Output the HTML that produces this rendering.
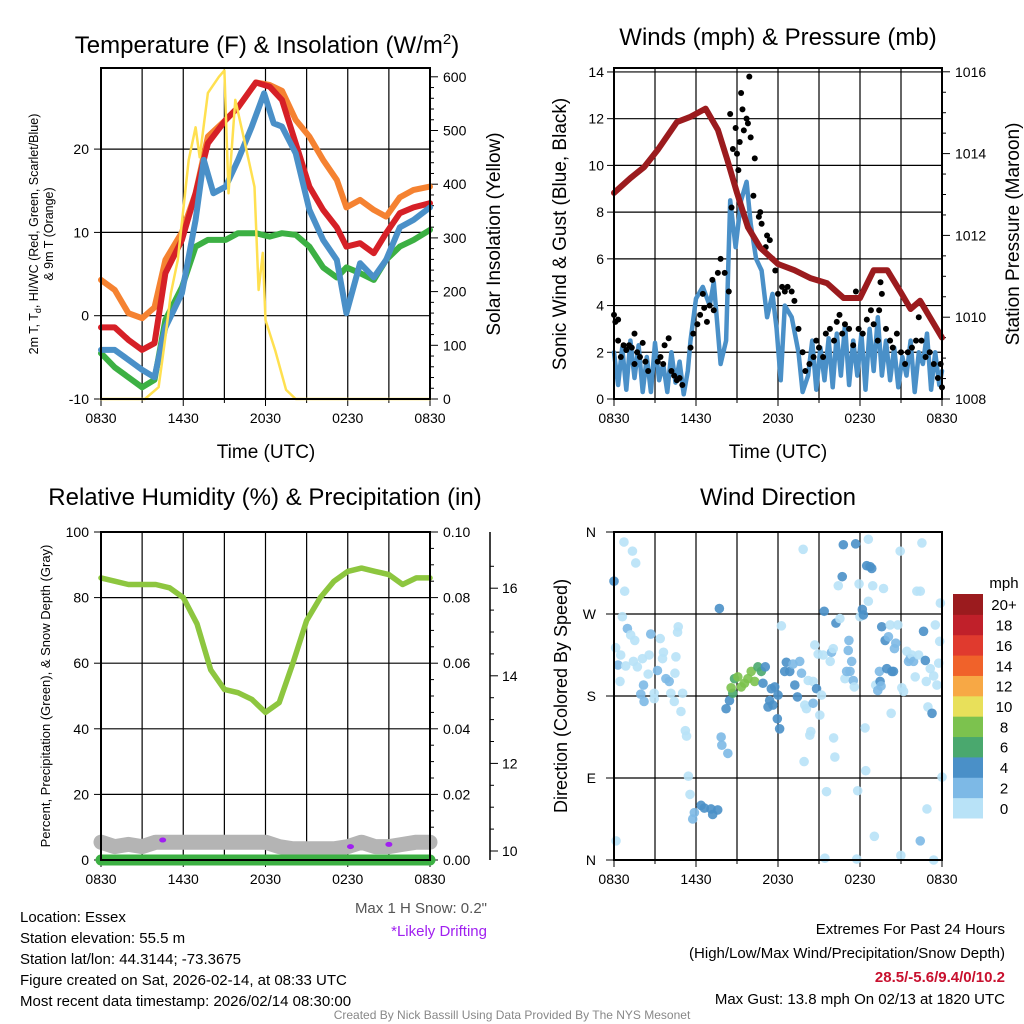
<!DOCTYPE html>
<html><head><meta charset="utf-8">
<style>
html,body{margin:0;padding:0;background:#fff;}
svg{display:block;font-family:"Liberation Sans",Arial,sans-serif;}
</style></head>
<body>
<svg id="s" width="1024" height="1024" viewBox="0 0 1024 1024" xmlns="http://www.w3.org/2000/svg">
<rect width="1024" height="1024" fill="#fff"/>
<g id="g1"></g>
<g id="g2"></g>
<g id="g3"></g>
<g id="g4"></g>
<g font-size="24" text-anchor="middle" fill="#000">
<text x="267" y="53">Temperature (F) &amp; Insolation (W/m<tspan font-size="15" dy="-9">2</tspan><tspan dy="9">)</tspan></text>
<text x="778" y="45">Winds (mph) &amp; Pressure (mb)</text>
<text x="265" y="505">Relative Humidity (%) &amp; Precipitation (in)</text>
<text x="778" y="505">Wind Direction</text>
</g>
<g font-size="19" text-anchor="middle">
<text x="266" y="458">Time (UTC)</text>
<text x="778" y="458">Time (UTC)</text>
<text transform="translate(500,234) rotate(-90)">Solar Insolation (Yellow)</text>
<text transform="translate(566,234) rotate(-90)">Sonic Wind &amp; Gust (Blue, Black)</text>
<text transform="translate(1019,234) rotate(-90)">Station Pressure (Maroon)</text>
<text transform="translate(567,696) rotate(-90)" font-size="18">Direction (Colored By Speed)</text>
</g>
<g font-size="12.5" text-anchor="middle">
<text transform="translate(38,234) rotate(-90)">2m T, T<tspan font-size="9" dy="3">d</tspan><tspan dy="-3">, HI/WC (Red, Green, Scarlet/Blue)</tspan></text>
<text transform="translate(53,234) rotate(-90)">&amp; 9m T (Orange)</text>
<text transform="translate(50,696) rotate(-90)" font-size="13">Percent, Precipitation (Green), &amp; Snow Depth (Gray)</text>
</g>
<g font-size="15" fill="#000">
<text x="20" y="922">Location: Essex</text>
<text x="20" y="943">Station elevation: 55.5 m</text>
<text x="20" y="964">Station lat/lon: 44.3144; -73.3675</text>
<text x="20" y="985">Figure created on Sat, 2026-02-14, at 08:33 UTC</text>
<text x="20" y="1006">Most recent data timestamp: 2026/02/14 08:30:00</text>
</g>
<g font-size="15" text-anchor="end">
<text x="487" y="913" fill="#555">Max 1 H Snow: 0.2"</text>
<text x="487" y="936" fill="#a020f0">*Likely Drifting</text>
<text x="1005" y="934" fill="#000">Extremes For Past 24 Hours</text>
<text x="1005" y="958" fill="#000">(High/Low/Max Wind/Precipitation/Snow Depth)</text>
<text x="1005" y="982" fill="#c8102e" font-weight="bold">28.5/-5.6/9.4/0/10.2</text>
<text x="1005" y="1004" fill="#000">Max Gust: 13.8 mph On 02/13 at 1820 UTC</text>
</g>
<text x="512" y="1019" font-size="12" fill="#888" text-anchor="middle">Created By Nick Bassill Using Data Provided By The NYS Mesonet</text>
</svg>
<script>
// ---- data (hours since 0830 UTC) ----
const hrs = [0,1,2,3,4,5,6,7,8,9,10,11,12,13,14,15,16,17,18,19,20,21,22,23,24];
const xTickLabels = ["0830","1430","2030","0230","0830"];
const tempHrs = [0,1,2,3,3.9,4.7,5.9,6.9,7.8,9.1,10,11.3,12.3,13.2,14.2,15.2,16.2,17.2,17.9,18.9,19.9,20.8,21.8,22.8,24];
const tempOrange = [4.3,3.1,0.3,-0.3,1.0,6.7,10,14.7,21.5,23.5,25,28,27.7,27,23.5,21.5,18.7,16.3,13,13.9,12.7,11.9,14.2,15.1,15.5];
const tempRed = [-1.4,-1.4,-2.9,-4.1,-3.3,5.1,9.1,14.7,20.7,23.5,25,28,27.5,25.9,20.7,15.5,12.7,10.6,8.3,8.7,7.5,9.9,12.3,13,13.5];
const tempGreen = [-4.5,-6.2,-7.4,-8.6,-7.7,-0.5,3.4,8.3,9.1,9.1,9.9,9.9,9.5,9.9,9.7,8.3,5.8,4.6,5.8,5.1,4.3,6.7,8.3,9.1,10.3];
const blueHrs = [0,1,2,3,3.9,4.7,5.9,6.9,7.5,8.2,9.1,10,11,11.9,12.6,13.2,14.2,15.2,16.2,17.2,17.9,18.9,19.9,20.8,21.8,22.8,24];
const tempBlue = [-4.1,-4.1,-5.3,-6.5,-7.4,-1.4,2.7,11.5,18.7,14.7,15.5,18.7,22.7,26.7,23.1,22.7,19.5,12.7,9.1,6.7,0.3,6.3,4.6,6.7,10.6,11.5,13];
const solarHrs = [0,3.2,4.2,4.7,5.1,5.6,6.4,6.9,7.2,7.8,8.6,9.0,9.3,9.8,10.5,11.2,11.5,11.8,12.0,12.7,13.5,14.2,24];
const solarVals = [0,0,22,115,197,259,445,506,450,570,600,612,383,557,477,395,203,272,147,91,17,0,0];
const tempTicks = [-10,0,10,20];
const solarTicks = [0,100,200,300,400,500,600];

const pressHrs = [0,1.2,2.2,3.2,4.6,5.6,6.7,7.6,8.3,9.0,9.8,10.7,12,13.2,14.4,15.6,16.8,18,19,20,21,21.7,22.4,24];
const pressure = [1013.04,1013.4,1013.67,1014.09,1014.77,1014.9,1015.1,1014.58,1013.84,1013.04,1012.2,1011.7,1011.3,1011.15,1010.95,1010.83,1010.47,1010.47,1011.15,1011.15,1010.6,1010.2,1010.4,1009.5];
const windHrs = [0,0.3,0.6,0.9,1.2,1.5,1.8,2.1,2.4,2.7,3.0,3.3,3.6,3.9,4.2,4.5,4.8,5.1,5.4,5.6,6.0,6.5,7.0,7.3,7.8,8.2,8.5,8.9,9.3,9.7,10.0,10.4,10.8,11.2,11.6,11.9,12.2,12.5,13.0,13.5,13.8,14.2,14.5,14.8,15.1,15.4,15.7,16.0,16.3,16.6,16.9,17.2,17.5,17.8,18.1,18.4,18.7,19.0,19.3,19.6,19.9,20.2,20.5,20.8,21.1,21.4,21.7,22.0,22.3,22.6,22.9,23.2,23.5,23.8,24];
const windVals = [2,0.6,2.2,0.4,2.5,0.9,2.3,0.3,1.8,0.3,2.4,0.8,1.5,0.3,2.0,0.7,1.6,0.2,1.2,2.5,4.3,4.8,4.0,5.0,1.5,2.5,8.5,6.5,8.5,9.3,7.5,6.0,5.5,3.5,4.5,3.0,0.8,4.0,3.5,2.0,0.3,1.0,2.5,0.4,2.2,0.8,2.6,0.5,2.8,1.0,3.2,0.6,2.5,1.0,2.8,0.4,3.0,1.2,3.5,1.0,2.5,0.8,2.2,0.5,1.8,1.0,2.5,0.3,2.0,1.5,2.8,0.4,2.0,0.6,1.2];
const gustHrs = [0,0.1,0.3,0.3,0.5,0.7,0.9,1.1,1.3,1.5,1.5,1.7,1.9,2.1,2.3,2.5,3.2,3.4,3.6,3.7,4.0,4.2,4.4,4.6,4.8,5.0,5.6,5.8,6.1,6.3,6.5,6.6,6.8,7.0,7.2,7.3,7.6,7.8,8.1,8.4,8.6,8.5,8.7,8.9,9.0,9.1,9.2,9.3,9.4,9.5,9.7,9.9,9.8,10.0,10.3,10.2,10.6,10.7,10.8,11.1,11.2,11.4,11.6,11.8,12.0,12.3,12.5,12.7,13.0,13.2,13.5,13.8,14.0,14.3,14.6,14.8,15.0,15.3,15.5,15.8,16.1,16.3,16.5,16.7,16.9,17.2,17.5,17.7,17.9,18.2,18.5,18.8,19.0,19.3,19.4,19.5,19.6,19.9,20.2,20.4,20.7,21.0,21.3,21.5,21.8,22.1,22.3,22.5,22.8,23.1,23.4,23.7,23.9,24.0];
const gustVals = [3.6,3.3,3.4,2.5,1.8,2.3,2.1,2.3,2.2,2.8,1.5,2.0,1.8,2.4,1.6,1.2,1.6,1.8,1.5,2.3,2.6,1.2,1.0,0.8,0.9,0.6,2.2,2.8,3.2,3.6,4.5,3.9,3.3,4.0,5.1,3.8,5.4,6.0,5.4,4.6,8.2,12.2,10.7,11.6,10.5,9.8,11.0,13.1,12.4,11.5,12.0,13.8,11.8,11.2,10.3,8.7,7.8,8.0,7.5,6.5,7.0,6.8,6.0,5.5,4.5,4.8,4.6,4.8,4.6,4.2,3.0,2.0,1.2,1.5,1.8,2.5,2.2,1.8,2.8,3.0,2.5,3.3,3.6,2.8,3.2,3.0,2.3,4.6,3.0,2.8,3.4,3.8,3.2,2.5,3.8,5.0,4.5,3.0,2.5,2.2,2.8,2.0,1.5,2.0,2.2,2.5,3.5,2.5,1.8,2.0,1.5,0.9,1.5,0.5];
const windTicks = [0,2,4,6,8,10,12,14];
const pressTicks = [1008,1010,1012,1014,1016];

const rh = [86,85,84,84,84,83,80,72,58,52,51,49,45,48,60,73,80,85,88,89,88,87,84,86,86];
const snowHrs = [0,1,2,3,4,5,6,7,8,9,10,11,12,13,14,15,16,17,18,19,20,21,22,23,24];
const snowDepth = [10.2,10.1,10.15,10.1,10.2,10.2,10.2,10.2,10.2,10.2,10.2,10.2,10.2,10.1,10.05,10.05,10.05,10.05,10.1,10.2,10.1,10.1,10.15,10.2,10.2];
const precip = [0,0,0,0,0,0,0,0,0,0,0,0,0,0,0,0,0,0,0,0,0,0,0,0,0];
const driftHrs = [4.5,18.2,21.0];
const driftDepth = [10.25,10.1,10.15];
const rhTicks = [0,20,40,60,80,100];
const precipTicks = ["0.00","0.02","0.04","0.06","0.08","0.10"];
const snowTicks = [10,12,14,16];

const dirHrs = [0.73,1.35,1.59,0,0.78,0.61,0.98,1.22,1.52,0.12,0.49,0.29,0.86,1.42,1.71,2.08,2.57,2.69,3.38,3.62,3.55,4.53,4.65,4.70,3.18,2.50,3.80,4.04,4.46,0.44,2.16,1.96,2.20,2.94,2.94,4.16,4.41,5.02,4.90,5.22,5.31,5.44,5.56,6.37,6.61,5.88,5.76,7.22,7.59,7.10,7.71,7.84,7.89,8.33,8.20,8.45,8.69,8.57,8.82,9.06,9.31,9.55,9.80,10.04,10.29,10.53,10.78,11.07,10.90,11.51,11.76,12.0,11.39,11.27,11.63,11.95,12.12,12.25,12.49,12.61,12.86,13.10,13.59,13.23,13.42,13.72,13.96,14.08,14.21,14.57,14.40,14.33,14.82,14.57,15.06,15.18,13.84,13.91,14.69,14.94,15.38,15.31,15.55,15.43,15.82,15.92,16.04,16.07,16.16,16.24,16.41,16.53,16.70,16.78,16.90,17.02,17.14,17.27,17.19,17.39,17.51,17.58,17.68,17.76,17.83,17.93,18.0,18.17,18.25,18.37,18.42,18.49,18.61,18.74,18.86,18.61,18.93,19.05,19.15,19.30,19.47,19.42,19.54,19.59,19.72,19.84,19.96,20.08,20.21,20.28,20.33,20.45,20.52,20.62,20.77,20.94,20.99,21.06,21.19,21.43,21.55,21.67,21.80,21.92,22.04,22.16,22.41,22.29,22.53,22.65,22.78,22.85,22.90,22.97,23.14,23.27,23.39,23.39,23.51,23.63,23.76,23.83,23.88,24.0,22.41,0.15];
const dirDeg = [349,339,326,306,295,267,254,247,241,233,225,214,213,218,212,221,225,248,243,228,221,223,250,256,208,204,199,196,205,196,192,182,174,177,183,183,174,183,163,142,136,92,72,60,57,52,45,50,55,56,276,135,126,117,166,175,183,189,199,201,190,194,199,207,196,212,207,212,194,188,190,181,175,168,170,155,144,257,207,217,207,215,218,192,179,205,170,166,197,196,141,137,188,172,159,181,341,108,236,226,273,225,75,2,218,228,232,134,113,260,301,265,311,346,199,207,230,207,241,218,197,190,347,1,76,303,267,275,269,145,98,323,284,322,320,352,301,26,192,186,196,207,191,256,298,241,210,245,258,161,207,207,232,238,258,339,5,189,185,229,218,221,225,218,201,295,295,225,348,251,219,196,56,168,210,161,202,0,258,192,216,240,282,91,21,21];
const dirSpd = [1,1,1,5,1,1,3,1,1,1,1,3,1,1,1,1,1,3,1,1,1,1,1,1,3,1,3,3,1,1,3,3,3,1,1,1,1,1,1,1,1,1,1,5,5,3,3,5,5,5,5,3,3,3,5,5,7,9,7,9,9,9,9,9,9,7,7,5,5,5,5,5,5,5,5,5,5,1,5,5,5,3,3,5,5,3,1,1,1,1,1,1,5,3,1,1,1,1,1,1,5,1,1,1,1,3,1,1,1,5,1,1,5,5,1,3,3,3,3,3,3,1,5,1,1,1,1,5,5,1,1,5,1,5,5,1,1,1,1,3,5,3,3,5,1,5,5,3,1,1,5,5,3,3,1,1,1,1,1,1,3,3,1,3,1,1,1,1,1,5,5,1,1,1,1,5,1,1,1,1,1,1,1,1,3,1,1];
const dirTicks = ["N","E","S","W","N"];
const spdBins = ["0","2","4","6","8","10","12","14","16","18","20+"];
const spdColors = ["#b8e2f7","#7db9e6","#4a90c8","#4aa86e","#7cc24e","#e8e05a","#f7a845","#f0622a","#e03a2e","#c0202a","#9b1b1e"];

// ---- helpers ----
const NS="http://www.w3.org/2000/svg";
function mk(parent,tag,attrs){const e=document.createElementNS(NS,tag);for(const k in attrs)e.setAttribute(k,attrs[k]);parent.appendChild(e);return e;}
function txt(parent,x,y,s,anchor,size){const t=mk(parent,"text",{x:x,y:y,"text-anchor":anchor,"font-size":size});t.textContent=s;return t;}
function pathD(xs,ys,fx,fy){return xs.map((h,i)=>(i?"L":"M")+fx(h).toFixed(1)+","+fy(ys[i]).toFixed(1)).join("");}

function frame(g,L,T,R,B,hLines){
  for(let k=1;k<8;k++){const x=L+(R-L)*k/8;
    const l=mk(g,"line",{x1:x,y1:T,x2:x,y2:B,stroke:"#000","stroke-width":1.2});
    
    }
  hLines.forEach(y=>{const l=mk(g,"line",{x1:L,y1:y,x2:R,y2:y,stroke:"#000","stroke-width":1.2});
    
    });
  for(let k=0;k<=8;k++){const x=L+(R-L)*k/8;mk(g,"line",{x1:x,y1:B,x2:x,y2:B+(k%2?4:7),stroke:"#000","stroke-width":1});}
  xTickLabels.forEach((s,i)=>{const t=txt(g,L+(R-L)*i/4,B+24,s,"middle",14);
    
    });
}
function box(g,L,T,R,B){const r=mk(g,"rect",{x:L,y:T,width:R-L,height:B-T,fill:"none",stroke:"#000","stroke-width":2});
  
  }

// ===== Panel 1 =====
(function(){
  const g=document.getElementById("g1");
  const L=101,R=430,T=68,B=399;
  const x=h=>L+h*(R-L)/24, yT=v=>B-(v+10)*8.33, yS=w=>B-w*0.537;
  frame(g,L,T,R,B,tempTicks.map(yT));
  tempTicks.forEach(v=>{mk(g,"line",{x1:L-7,y1:yT(v),x2:L,y2:yT(v),stroke:"#000"});
    const t=txt(g,L-12,yT(v)+5,String(v),"end",14);
    
    });
  for(let w=0;w<=600;w+=20){mk(g,"line",{x1:R,y1:yS(w),x2:R+(w%100?4:8),y2:yS(w),stroke:"#000"});}
  solarTicks.forEach(w=>{const t=txt(g,R+13,yS(w)+5,String(w),"start",14);
    
    });
  const cp=mk(g,"clipPath",{id:"c1"});mk(cp,"rect",{x:L-6,y:T-4,width:R-L+12,height:B-T+6});
  const lg=mk(g,"g",{"clip-path":"url(#c1)",fill:"none","stroke-linejoin":"round","stroke-linecap":"round"});
  const series=[[tempHrs,tempOrange,"#f58231","orange-9m-temp-line"],[tempHrs,tempGreen,"#3cb043","green-dewpoint-line"],[tempHrs,tempRed,"#d62027","red-2m-temp-line"],[blueHrs,tempBlue,"#4a90c8","blue-windchill-line"]];
  series.forEach(s=>{const p=mk(lg,"path",{d:pathD(s[0],s[1],x,yT),stroke:s[2],"stroke-width":6});
    
    });
  const ys=mk(lg,"path",{d:pathD(solarHrs,solarVals,x,yS),stroke:"#ffe050","stroke-width":2.5});
  
  
  box(g,L,T,R,B);
})();

// ===== Panel 2 =====
(function(){
  const g=document.getElementById("g2");
  const L=614,R=942,T=68,B=399;
  const x=h=>L+h*(R-L)/24, yW=v=>B-v*23.36, yP=p=>B-(p-1008)*40.9;
  frame(g,L,T,R,B,windTicks.slice(1).map(yW));
  windTicks.forEach(v=>{mk(g,"line",{x1:L-7,y1:yW(v),x2:L,y2:yW(v),stroke:"#000"});
    const t=txt(g,L-10,yW(v)+5,String(v),"end",14);
    
    });
  for(let p=1008;p<=1016;p+=0.5){mk(g,"line",{x1:R,y1:yP(p),x2:R+(p%2?4:8),y2:yP(p),stroke:"#000"});}
  pressTicks.forEach(p=>{const t=txt(g,R+13,yP(p)+5,String(p),"start",14);
    
    });
  const w=mk(g,"path",{d:pathD(windHrs,windVals,x,yW),fill:"none",stroke:"#4a90c8","stroke-width":4.5,"stroke-linejoin":"round","stroke-linecap":"round"});
  
  
  gustHrs.forEach((h,i)=>{const c=mk(g,"circle",{cx:x(h),cy:yW(gustVals[i]),r:3,fill:"#000"});
    
    });
  const p=mk(g,"path",{d:pathD(pressHrs,pressure,x,yP),fill:"none",stroke:"#9b1b1e","stroke-width":6,"stroke-linejoin":"round","stroke-linecap":"round"});
  
  
  box(g,L,T,R,B);
})();

// ===== Panel 3 =====
(function(){
  const g=document.getElementById("g3");
  const L=101,R=430,T=532,B=860;
  const x=h=>L+h*(R-L)/24, yR=v=>B-v*3.28, ySn=s=>851-(s-10)*43.8;
  frame(g,L,T,R,B,rhTicks.slice(1,5).map(yR));
  rhTicks.forEach(v=>{mk(g,"line",{x1:L-7,y1:yR(v),x2:L,y2:yR(v),stroke:"#000"});
    const t=txt(g,L-12,yR(v)+5,String(v),"end",14);
    
    });
  for(let k=0;k<=20;k++){const yy=B-k*(B-T)/20;mk(g,"line",{x1:R,y1:yy,x2:R+(k%4?4:8),y2:yy,stroke:"#000"});}
  precipTicks.forEach((s,i)=>{const t=txt(g,R+13,yR(i*20)+5,s,"start",14);
    
    });
  mk(g,"line",{x1:490,y1:T,x2:490,y2:B,stroke:"#000","stroke-width":1.5});
  for(let s=10;s<=16.5;s+=0.5){mk(g,"line",{x1:490,y1:ySn(s),x2:490+(s%2?4:8),y2:ySn(s),stroke:"#000"});}
  snowTicks.forEach(s=>{const t=txt(g,502,ySn(s)+5,String(s),"start",14);
    
    });
  const sn=mk(g,"path",{d:pathD(snowHrs,snowDepth,x,ySn),fill:"none",stroke:"#b4b4b4","stroke-width":15,"stroke-linejoin":"round","stroke-linecap":"round"});
  
  
  const pr=mk(g,"path",{d:pathD(hrs,precip,x,v=>B-v*3280),fill:"none",stroke:"#3cb043","stroke-width":11,"stroke-linecap":"round"});
  
  
  const r=mk(g,"path",{d:pathD(hrs,rh,x,yR),fill:"none",stroke:"#8dc63f","stroke-width":5.5,"stroke-linejoin":"round","stroke-linecap":"round"});
  
  
  driftHrs.forEach((h,i)=>{const c=mk(g,"ellipse",{cx:x(h),cy:ySn(driftDepth[i]),rx:3.5,ry:2.5,fill:"#a020f0"});
    
    });
  box(g,L,T,R,B);
})();

// ===== Panel 4 =====
(function(){
  const g=document.getElementById("g4");
  const L=614,R=942,T=532,B=860;
  const x=h=>L+h*(R-L)/24, yD=d=>B-d*(B-T)/360;
  frame(g,L,T,R,B,[90,180,270].map(yD));
  dirTicks.forEach((s,i)=>{const yy=yD(i*90);mk(g,"line",{x1:L-8,y1:yy,x2:L,y2:yy,stroke:"#000"});
    const t=txt(g,L-18,yy+5,s,"end",14);
    
    });
  dirHrs.forEach((h,i)=>{const bin=Math.min(10,Math.floor(dirSpd[i]/2));
    const c=mk(g,"circle",{cx:x(h),cy:yD(dirDeg[i]),r:4.8,fill:spdColors[bin],"fill-opacity":0.9});
    
    });
  box(g,L,T,R,B);
  const cb=mk(g,"g",{});
  
  
  const bh=(818-594)/11;
  spdBins.forEach((s,i)=>{const yy=818-(i+1)*bh;
    const r=mk(cb,"rect",{x:953,y:yy,width:30,height:bh+0.5,fill:spdColors[i]});
    
    
    const t=txt(cb,1004,yy+bh/2+6,s,"middle",15);
    
    });
  const u=txt(cb,1004,588,"mph","middle",15);
  
  
})();
</script>
</body></html>
